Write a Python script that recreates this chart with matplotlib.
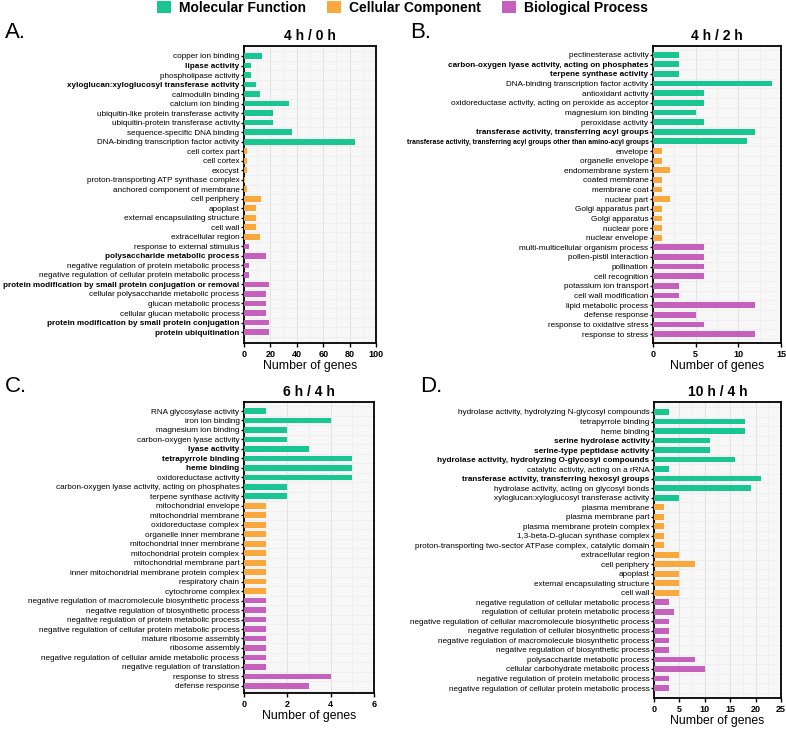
import matplotlib
matplotlib.use("Agg")
from matplotlib import pyplot as plt
from matplotlib.patches import Patch
import numpy as np

plt.rcParams["font.family"] = ["Liberation Sans", "DejaVu Sans"]

GREEN = "#19c590"
ORANGE = "#f8a83c"
PURPLE = "#c560bd"

# --- A: 4 h / 0 h ---
a_labels = [
    "copper ion binding", "lipase activity", "phospholipase activity",
    "xyloglucan:xyloglucosyl transferase activity", "calmodulin binding",
    "calcium ion binding", "ubiquitin-like protein transferase activity",
    "ubiquitin-protein transferase activity", "sequence-specific DNA binding",
    "DNA-binding transcription factor activity",
    "cell cortex part", "cell cortex", "exocyst",
    "proton-transporting ATP synthase complex", "anchored component of membrane",
    "cell periphery", "apoplast", "external encapsulating structure", "cell wall",
    "extracellular region",
    "response to external stimulus", "polysaccharide metabolic process",
    "negative regulation of protein metabolic process",
    "negative regulation of cellular protein metabolic process",
    "protein modification by small protein conjugation or removal",
    "cellular polysaccharide metabolic process", "glucan metabolic process",
    "cellular glucan metabolic process",
    "protein modification by small protein conjugation", "protein ubiquitination",
]
a_values = [14, 5, 5, 9, 12, 34, 22, 22, 36, 84,
            2, 2, 2, 1, 2, 13, 9, 9, 9, 12,
            4, 17, 4, 4, 19, 17, 17, 17, 19, 19]
a_bold = ["lipase activity", "xyloglucan:xyloglucosyl transferase activity",
          "polysaccharide metabolic process",
          "protein modification by small protein conjugation or removal",
          "protein modification by small protein conjugation",
          "protein ubiquitination"]

# --- B: 4 h / 2 h ---
b_labels = [
    "pectinesterase activity",
    "carbon-oxygen lyase activity, acting on phosphates",
    "terpene synthase activity", "DNA-binding transcription factor activity",
    "antioxidant activity",
    "oxidoreductase activity, acting on peroxide as acceptor",
    "magnesium ion binding", "peroxidase activity",
    "transferase activity, transferring acyl groups",
    "transferase activity, transferring acyl groups other than amino-acyl groups",
    "envelope", "organelle envelope", "endomembrane system", "coated membrane",
    "membrane coat", "nuclear part", "Golgi apparatus part", "Golgi apparatus",
    "nuclear pore", "nuclear envelope",
    "multi-multicellular organism process", "pollen-pistil interaction",
    "pollination", "cell recognition", "potassium ion transport",
    "cell wall modification", "lipid metabolic process", "defense response",
    "response to oxidative stress", "response to stress",
]
b_values = [3, 3, 3, 14, 6, 6, 5, 6, 12, 11,
            1, 1, 2, 1, 1, 2, 1, 1, 1, 1,
            6, 6, 6, 6, 3, 3, 12, 5, 6, 12]
b_bold = ["carbon-oxygen lyase activity, acting on phosphates",
          "terpene synthase activity",
          "transferase activity, transferring acyl groups",
          "transferase activity, transferring acyl groups other than amino-acyl groups"]

# --- C: 6 h / 4 h ---
c_labels = [
    "RNA glycosylase activity", "iron ion binding", "magnesium ion binding",
    "carbon-oxygen lyase activity", "lyase activity", "tetrapyrrole binding",
    "heme binding", "oxidoreductase activity",
    "carbon-oxygen lyase activity, acting on phosphates",
    "terpene synthase activity",
    "mitochondrial envelope", "mitochondrial membrane", "oxidoreductase complex",
    "organelle inner membrane", "mitochondrial inner membrane",
    "mitochondrial protein complex", "mitochondrial membrane part",
    "inner mitochondrial membrane protein complex", "respiratory chain",
    "cytochrome complex",
    "negative regulation of macromolecule biosynthetic process",
    "negative regulation of biosynthetic process",
    "negative regulation of protein metabolic process",
    "negative regulation of cellular protein metabolic process",
    "mature ribosome assembly", "ribosome assembly",
    "negative regulation of cellular amide metabolic process",
    "negative regulation of translation", "response to stress", "defense response",
]
c_values = [1, 4, 2, 2, 3, 5, 5, 5, 2, 2,
            1, 1, 1, 1, 1, 1, 1, 1, 1, 1,
            1, 1, 1, 1, 1, 1, 1, 1, 4, 3]
c_bold = ["lyase activity", "tetrapyrrole binding", "heme binding"]

# --- D: 10 h / 4 h ---
d_labels = [
    "hydrolase activity, hydrolyzing N-glycosyl compounds",
    "tetrapyrrole binding", "heme binding", "serine hydrolase activity",
    "serine-type peptidase activity",
    "hydrolase activity, hydrolyzing O-glycosyl compounds",
    "catalytic activity, acting on a rRNA",
    "transferase activity, transferring hexosyl groups",
    "hydrolase activity, acting on glycosyl bonds",
    "xyloglucan:xyloglucosyl transferase activity",
    "plasma membrane", "plasma membrane part", "plasma membrane protein complex",
    "1,3-beta-D-glucan synthase complex",
    "proton-transporting two-sector ATPase complex, catalytic domain",
    "extracellular region", "cell periphery", "apoplast",
    "external encapsulating structure", "cell wall",
    "negative regulation of cellular metabolic process",
    "regulation of cellular protein metabolic process",
    "negative regulation of cellular macromolecule biosynthetic process",
    "negative regulation of cellular biosynthetic process",
    "negative regulation of macromolecule biosynthetic process",
    "negative regulation of biosynthetic process",
    "polysaccharide metabolic process",
    "cellular carbohydrate metabolic process",
    "negative regulation of protein metabolic process",
    "negative regulation of cellular protein metabolic process",
]
d_values = [3, 18, 18, 11, 11, 16, 3, 21, 19, 5,
            2, 2, 2, 2, 2, 5, 8, 5, 5, 5,
            3, 4, 3, 3, 3, 3, 8, 10, 3, 3]
d_bold = ["serine hydrolase activity", "serine-type peptidase activity",
          "hydrolase activity, hydrolyzing O-glycosyl compounds",
          "transferase activity, transferring hexosyl groups"]

group_sizes = [10, 10, 10]
group_colors = [GREEN, ORANGE, PURPLE]

W, H = 786, 729
fig = plt.figure(figsize=(W / 100, H / 100), dpi=100)


def box(left, right, top, bottom):
    return [left / W, 1 - bottom / H, (right - left) / W, (bottom - top) / H]


def panel(rect, labels, values, bold, title, xmax, xstep, letter, letter_xy,
          pad_top, pad_bot):
    ax = fig.add_axes(rect)
    n = len(labels)
    y = np.arange(n)
    colors = []
    for size, col in zip(group_sizes, group_colors):
        colors += [col] * size
    ax.set_facecolor("#f7f7f7")
    ax.barh(y, values, height=0.6, color=colors, zorder=3)
    ax.set_ylim(n - 1 + pad_bot, -pad_top)
    ax.set_xlim(0, xmax)
    ax.set_xticks(np.arange(0, xmax + 0.01, xstep))
    ax.set_xticks(np.arange(xstep / 2, xmax, xstep), minor=True)
    ax.set_yticks(y)
    ax.set_yticks(np.arange(n + 1) - 0.5, minor=True)
    ax.set_yticklabels(labels, fontsize=5.9)
    for t in ax.get_yticklabels():
        if t.get_text() in bold:
            t.set_fontweight("bold")
            if len(t.get_text()) > 70:
                t.set_fontsize(4.85)
    ax.grid(which="major", axis="x", color="#e2e2e2", lw=0.7, zorder=0)
    ax.grid(which="minor", color="#ececec", lw=0.5, zorder=0)
    ax.tick_params(axis="y", which="major", length=2.5, width=1, pad=0.8)
    ax.tick_params(axis="y", which="minor", length=0)
    ax.tick_params(axis="x", which="major", length=3, width=1, labelsize=6.5, pad=2)
    ax.tick_params(axis="x", which="minor", length=0)
    for t in ax.get_xticklabels():
        t.set_fontweight("bold")
    for s in ax.spines.values():
        s.set_linewidth(1.3)
    ax.set_xlabel("Number of genes", fontsize=8.8, labelpad=1)
    ax.set_title(title, fontsize=10, fontweight="bold", pad=4)
    fig.text(letter_xy[0] / W, 1 - letter_xy[1] / H, letter, fontsize=16,
             ha="left", va="top")
    return ax


panel(box(244, 376, 46, 343), a_labels, a_values, a_bold, "4 h / 0 h",
      100, 20, "A.", (5, 22), 1.05, 1.15)
panel(box(653, 781, 46, 343), b_labels, b_values, b_bold, "4 h / 2 h",
      15, 5, "B.", (410, 22), 0.9, 0.93)
panel(box(244, 374, 402, 693), c_labels, c_values, c_bold, "6 h / 4 h",
      6, 2, "C.", (5, 376), 0.95, 0.75)
panel(box(654, 781, 402, 698), d_labels, d_values, d_bold, "10 h / 4 h",
      25, 5, "D.", (420, 376), 1.05, 1.05)

handles = [Patch(facecolor=c, edgecolor="none") for c in group_colors]
fig.legend(handles, ["Molecular Function", "Cellular Component", "Biological Process"],
           loc="upper center", bbox_to_anchor=(0.512, 1.016), ncol=3, frameon=False,
           handlelength=1.0, handleheight=1.0, handletextpad=0.6, columnspacing=1.5,
           prop={"weight": "bold", "size": 10})

fig.savefig("out.png", dpi=100)
